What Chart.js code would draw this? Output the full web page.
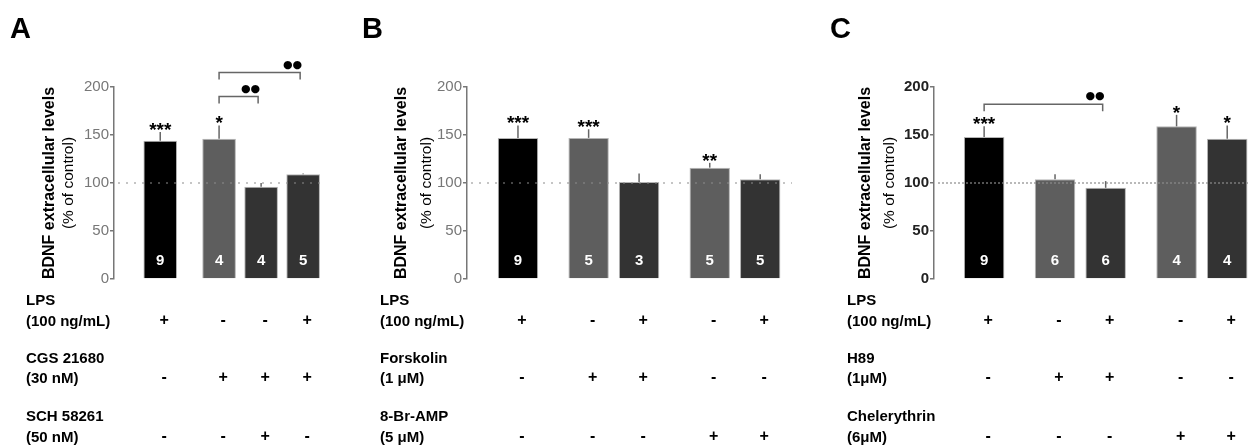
<!DOCTYPE html>
<html>
<head>
<meta charset="utf-8">
<script src="https://cdn.jsdelivr.net/npm/chart.js@4.4.1/dist/chart.umd.min.js"></script>
<style>
  html, body { margin: 0; padding: 0; background: #fff; }
  #wrap { position: relative; width: 1250px; height: 445px; overflow: hidden; }
  canvas { position: absolute; top: 0; }
</style>
</head>
<body>
<div id="wrap">
  <canvas id="panel-a" width="345" height="445" style="left:0px"></canvas>
  <canvas id="panel-b" width="450" height="445" style="left:345px"></canvas>
  <canvas id="panel-c" width="455" height="445" style="left:795px"></canvas>
</div>
<script>
// shared y ticks (% of control)
const yTicks = [0, 50, 100, 150, 200];

// Panel A - CGS 21680 / SCH 58261
const groupsA = [1, 2, 2, 2];
const meansA = [144, 146, 96, 109];
const semA = [9, 14, 4, 1];
const nA = [9, 4, 4, 5];
const starsA = ['***', '*', '', ''];
const bracketsA = [{ from: 1, to: 2, y: 190 }, { from: 1, to: 3, y: 215 }];
const rowLabelsA = [['LPS', '(100 ng/mL)'], ['CGS 21680', '(30 nM)'], ['SCH 58261', '(50 nM)']];
const rowsA = [['+', '-', '-', '+'], ['-', '+', '+', '+'], ['-', '-', '+', '-']];

// Panel B - Forskolin / 8-Br-AMP
const groupsB = [1, 2, 2, 3, 3];
const meansB = [147, 147, 101, 116, 104];
const semB = [13, 9, 9, 5, 5];
const nB = [9, 5, 3, 5, 5];
const starsB = ['***', '***', '', '**', ''];
const bracketsB = [];
const rowLabelsB = [['LPS', '(100 ng/mL)'], ['Forskolin', '(1 μM)'], ['8-Br-AMP', '(5 μM)']];
const rowsB = [['+', '-', '+', '-', '+'], ['-', '+', '+', '-', '-'], ['-', '-', '-', '+', '+']];

// Panel C - H89 / Chelerythrin
const groupsC = [1, 2, 2, 3, 3];
const meansC = [148, 104, 95, 159, 146];
const semC = [11, 5, 7, 12, 14];
const nC = [9, 6, 6, 4, 4];
const starsC = ['***', '', '', '*', '*'];
const bracketsC = [{ from: 0, to: 2, y: 182 }];
const rowLabelsC = [['LPS', '(100 ng/mL)'], ['H89', '(1μM)'], ['Chelerythrin', '(6μM)']];
const rowsC = [['+', '-', '+', '-', '+'], ['-', '+', '+', '-', '-'], ['-', '-', '-', '+', '+']];

const FONT = '"Liberation Sans", Arial, sans-serif';
const GROUP_GAP = 0.4;
const AXIS_W = 50;
const ROW_Y = [301, 358.5, 417];
const LINE_GAP = 20.5;

Chart.defaults.font.family = FONT;

function makePanel(id, p) {
  const xs = p.groups.map((g, i) => i + (g - 1) * GROUP_GAP);

  const overlay = {
    id: 'overlay',
    afterDatasetsDraw(chart) {
      const { ctx, chartArea, scales: { x, y } } = chart;
      ctx.save();

      // upper whiskers
      ctx.strokeStyle = '#666';
      ctx.lineWidth = 1.5;
      p.means.forEach((m, i) => {
        const px = x.getPixelForValue(xs[i]);
        ctx.beginPath();
        ctx.moveTo(px, y.getPixelForValue(m));
        ctx.lineTo(px, y.getPixelForValue(m + p.sem[i]));
        ctx.stroke();
      });

      // control level line
      ctx.strokeStyle = '#8c8c8c';
      ctx.lineWidth = 1.2;
      ctx.setLineDash(p.dash);
      const y100 = y.getPixelForValue(100);
      ctx.beginPath();
      ctx.moveTo(chartArea.left + 4, y100);
      ctx.lineTo(chartArea.right, y100);
      ctx.stroke();
      ctx.setLineDash([]);

      // n inside bars
      ctx.fillStyle = '#fff';
      ctx.font = 'bold 15px ' + FONT;
      ctx.textAlign = 'center';
      ctx.textBaseline = 'middle';
      p.n.forEach((n, i) => {
        ctx.fillText(String(n), x.getPixelForValue(xs[i]), y.getPixelForValue(0) - 18);
      });

      // significance stars
      ctx.fillStyle = '#000';
      ctx.font = 'bold 19px ' + FONT;
      ctx.textBaseline = 'alphabetic';
      p.stars.forEach((s, i) => {
        if (!s) return;
        ctx.fillText(s, x.getPixelForValue(xs[i]), y.getPixelForValue(p.means[i] + p.sem[i]) + 4);
      });

      // brackets
      p.brackets.forEach(b => {
        const x1 = x.getPixelForValue(xs[b.from]);
        const x2 = x.getPixelForValue(xs[b.to]) - 3;
        const yb = y.getPixelForValue(b.y);
        ctx.strokeStyle = '#666';
        ctx.lineWidth = 1.5;
        ctx.beginPath();
        ctx.moveTo(x1, yb + 7);
        ctx.lineTo(x1, yb);
        ctx.lineTo(x2, yb);
        ctx.lineTo(x2, yb + 7);
        ctx.stroke();
        ctx.fillStyle = '#000';
        ctx.font = '11px "DejaVu Sans"';
        ctx.textAlign = 'right';
        ctx.fillText('●●', x2 + 2, yb - 5);
      });
      ctx.restore();
    },
    afterDraw(chart) {
      const { ctx, chartArea, scales: { x } } = chart;
      ctx.save();
      ctx.fillStyle = '#000';

      // panel letter
      ctx.font = 'bold 29px ' + FONT;
      ctx.textAlign = 'left';
      ctx.textBaseline = 'alphabetic';
      ctx.fillText(p.letter, p.letterX, 38);

      // y axis title
      const midY = (chartArea.top + chartArea.bottom) / 2;
      ctx.save();
      ctx.translate(chartArea.left - p.titleOff[0], midY);
      ctx.rotate(-Math.PI / 2);
      ctx.textAlign = 'center';
      ctx.textBaseline = 'middle';
      ctx.font = 'bold 16px ' + FONT;
      ctx.fillText('BDNF extracellular levels', 0, 0);
      ctx.restore();
      ctx.save();
      ctx.translate(chartArea.left - p.titleOff[1], midY);
      ctx.rotate(-Math.PI / 2);
      ctx.textAlign = 'center';
      ctx.textBaseline = 'middle';
      ctx.font = '15.5px ' + FONT;
      ctx.fillText('(% of control)', 0, 0);
      ctx.restore();

      // treatment table
      ctx.font = 'bold 15px ' + FONT;
      ctx.textBaseline = 'middle';
      p.rowLabels.forEach((lbl, r) => {
        ctx.textAlign = 'left';
        ctx.fillText(lbl[0], p.tableX, ROW_Y[r]);
        ctx.fillText(lbl[1], p.tableX, ROW_Y[r] + LINE_GAP);
        ctx.textAlign = 'center';
        ctx.font = 'bold 16px ' + FONT;
        p.rows[r].forEach((s, i) => {
          ctx.fillText(s, x.getPixelForValue(xs[i]) + 4, ROW_Y[r] + LINE_GAP - 1);
        });
        ctx.font = 'bold 15px ' + FONT;
      });
      ctx.restore();
    }
  };

  return new Chart(document.getElementById(id).getContext('2d'), {
    type: 'bar',
    data: {
      datasets: [{
        data: p.means.map((m, i) => ({ x: xs[i], y: m })),
        backgroundColor: p.colors,
        borderColor: '#b5b5b5',
        borderWidth: 1,
        barPercentage: 0.8,
        categoryPercentage: 1
      }]
    },
    options: {
      responsive: false,
      animation: false,
      layout: { padding: { left: p.padLeft, right: p.padRight, top: 87, bottom: 166 } },
      plugins: { legend: { display: false }, tooltip: { enabled: false } },
      scales: {
        x: { type: 'linear', min: p.xMin, max: p.xMax, offset: false, display: false },
        y: {
          min: 0,
          max: 200,
          afterBuildTicks: s => { s.ticks = yTicks.map(v => ({ value: v })); },
          afterFit: s => { s.width = AXIS_W; },
          ticks: {
            color: p.tickColor,
            font: { size: 15, weight: p.tickWeight },
            padding: 1
          },
          grid: { drawOnChartArea: false, drawTicks: true, tickLength: 4, color: '#777', lineWidth: 1.5 },
          border: { display: true, color: '#777', width: 1.5 }
        }
      }
    },
    plugins: [overlay]
  });
}

makePanel('panel-a', {
  groups: groupsA, means: meansA, sem: semA, n: nA, stars: starsA, brackets: bracketsA,
  rowLabels: rowLabelsA, rows: rowsA,
  colors: ['#000', '#5e5e5e', '#333', '#333'],
  letter: 'A', letterX: 10, tableX: 26, titleOff: [64, 45],
  padLeft: 114 - AXIS_W, padRight: 20, xMin: -1.1, xMax: 3.92,
  tickColor: '#777', tickWeight: 'normal', dash: [2, 6]
});

makePanel('panel-b', {
  groups: groupsB, means: meansB, sem: semB, n: nB, stars: starsB, brackets: bracketsB,
  rowLabels: rowLabelsB, rows: rowsB,
  colors: ['#000', '#5e5e5e', '#333', '#5e5e5e', '#333'],
  letter: 'B', letterX: 17, tableX: 35, titleOff: [65, 40],
  padLeft: 122 - AXIS_W, padRight: 3, xMin: -1.01, xMax: 5.43,
  tickColor: '#777', tickWeight: 'normal', dash: [2, 6]
});

makePanel('panel-c', {
  groups: groupsC, means: meansC, sem: semC, n: nC, stars: starsC, brackets: bracketsC,
  rowLabels: rowLabelsC, rows: rowsC,
  colors: ['#000', '#5e5e5e', '#333', '#5e5e5e', '#333'],
  letter: 'C', letterX: 35, tableX: 52, titleOff: [68, 44],
  padLeft: 139 - AXIS_W, padRight: 0, xMin: -0.99, xMax: 5.25,
  tickColor: '#222', tickWeight: 'bold', dash: [2, 2]
});
</script>
</body>
</html>
